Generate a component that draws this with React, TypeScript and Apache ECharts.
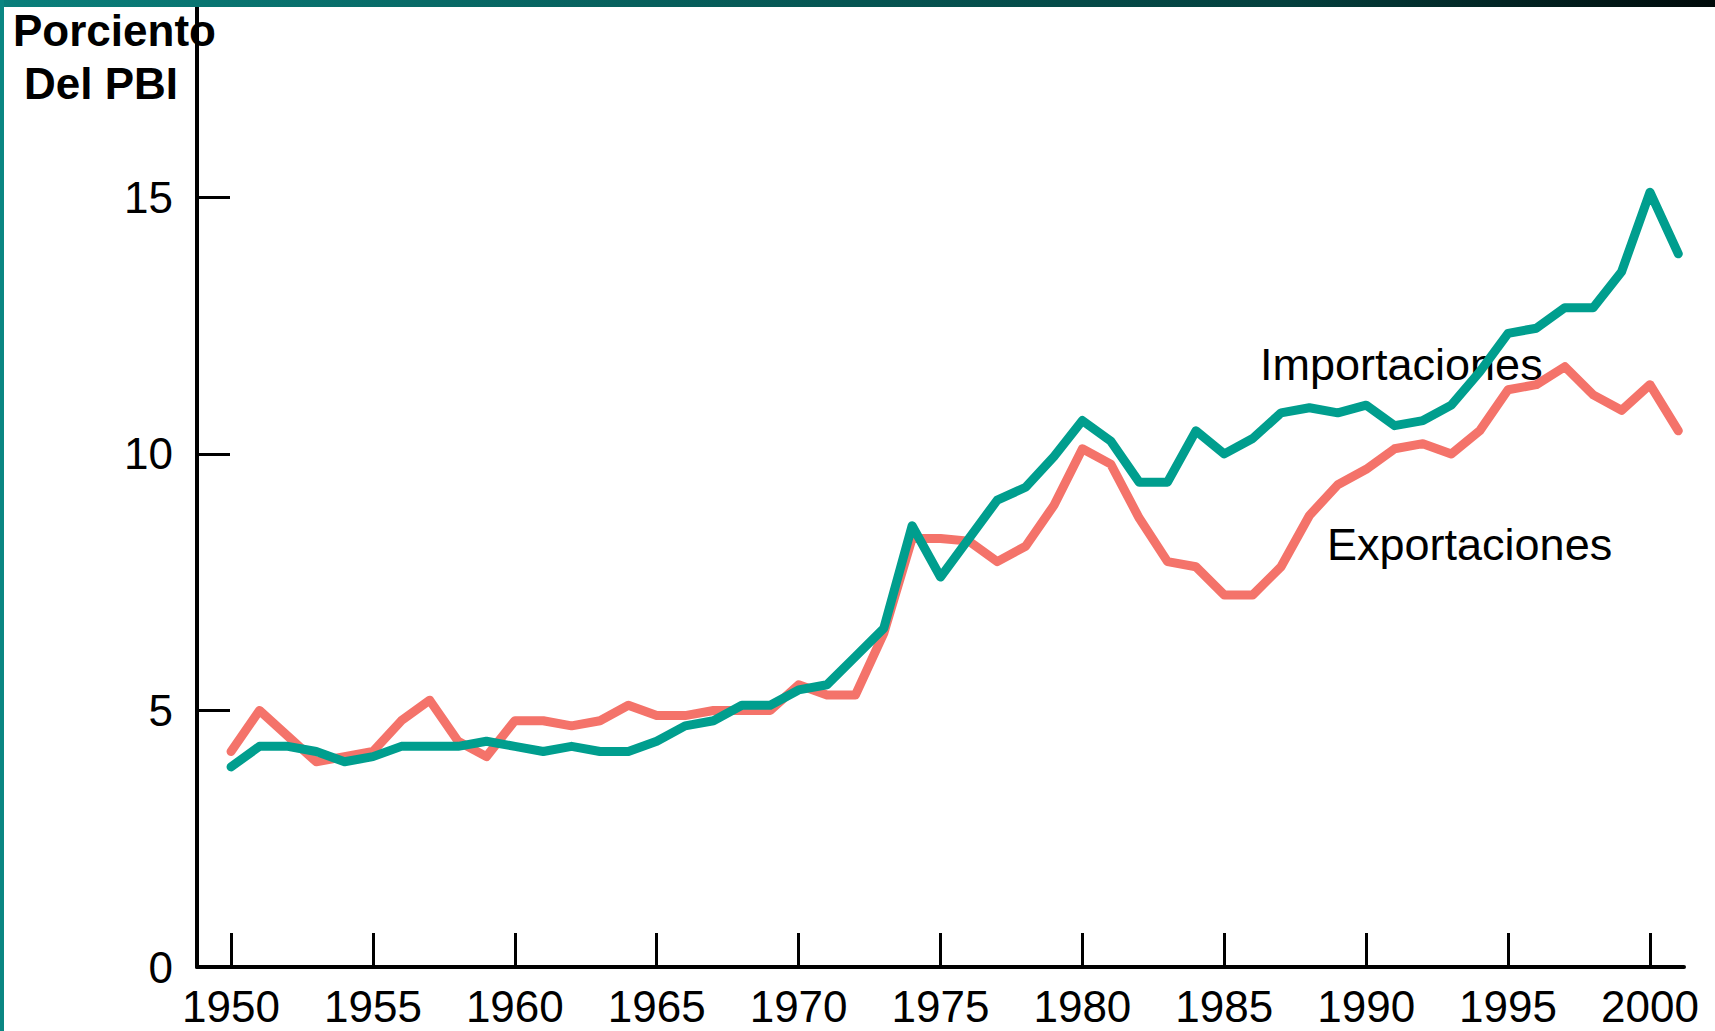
import React, { useEffect, useRef } from "react";
import * as echarts from "echarts";

const years: number[] = [];
for (let y = 1950; y <= 2001; y++) years.push(y);

const exportaciones = [
  4.2, 5.0, 4.5, 4.0, 4.1, 4.2, 4.8, 5.2, 4.4, 4.1,
  4.8, 4.8, 4.7, 4.8, 5.1, 4.9, 4.9, 5.0, 5.0, 5.0,
  5.5, 5.3, 5.3, 6.5, 8.35, 8.35, 8.3, 7.9, 8.2, 9.0,
  10.1, 9.8, 8.75, 7.9, 7.8, 7.25, 7.25, 7.8, 8.8, 9.4,
  9.7, 10.1, 10.2, 10.0, 10.45, 11.25, 11.35, 11.7, 11.15, 10.85,
  11.35, 10.45,
];

const importaciones = [
  3.9, 4.3, 4.3, 4.2, 4.0, 4.1, 4.3, 4.3, 4.3, 4.4,
  4.3, 4.2, 4.3, 4.2, 4.2, 4.4, 4.7, 4.8, 5.1, 5.1,
  5.4, 5.5, 6.05, 6.6, 8.6, 7.6, 8.35, 9.1, 9.35, 9.95,
  10.65, 10.25, 9.45, 9.45, 10.45, 10.0, 10.3, 10.8, 10.9, 10.8,
  10.95, 10.55, 10.65, 10.95, 11.6, 12.35, 12.45, 12.85, 12.85, 13.55,
  15.1, 13.9,
];

const xTicks = [1950, 1955, 1960, 1965, 1970, 1975, 1980, 1985, 1990, 1995, 2000];
const yTicks = [0, 5, 10, 15];
const yTickMarks = [5, 10, 15];

const FONT = "'Liberation Sans', Arial, Helvetica, sans-serif";

export default function App() {
  const ref = useRef<HTMLDivElement>(null);

  useEffect(() => {
    if (!ref.current) return;
    const chart = echarts.init(ref.current, undefined, { renderer: "svg" });
    const exp = years.map((y, i) => [y, exportaciones[i]]);
    const imp = years.map((y, i) => [y, importaciones[i]]);

    chart.setOption({
      animation: false,
      backgroundColor: "#ffffff",
      textStyle: { fontFamily: FONT },
      grid: { left: 197, right: 31, top: 7, bottom: 64, containLabel: false },
      xAxis: {
        type: "value",
        min: 1948.8,
        max: 2001.2,
        splitLine: { show: false },
        axisLine: { show: true, lineStyle: { color: "#000", width: 4 } },
        axisTick: {
          show: true,
          inside: true,
          length: 34,
          customValues: xTicks,
          lineStyle: { color: "#000", width: 3 },
        },
        axisLabel: {
          show: true,
          customValues: xTicks,
          fontSize: 44,
          color: "#000",
          fontFamily: FONT,
          margin: 17,
          formatter: (v: number) => String(v),
        },
      },
      yAxis: {
        type: "value",
        min: 0,
        max: 18.71,
        splitLine: { show: false },
        axisLine: { show: true, lineStyle: { color: "#000", width: 4 } },
        axisTick: {
          show: true,
          inside: true,
          length: 33,
          customValues: yTickMarks,
          lineStyle: { color: "#000", width: 3 },
        },
        axisLabel: {
          show: true,
          customValues: yTicks,
          fontSize: 44,
          color: "#000",
          fontFamily: FONT,
          margin: 24,
          formatter: (v: number) => String(v),
        },
      },
      series: [
        {
          name: "Exportaciones",
          type: "line",
          data: exp,
          showSymbol: false,
          symbol: "none",
          lineStyle: { color: "#F4736A", width: 9, cap: "round", join: "round" },
          z: 2,
        },
        {
          name: "Importaciones",
          type: "line",
          data: imp,
          showSymbol: false,
          symbol: "none",
          lineStyle: { color: "#009E8E", width: 9, cap: "round", join: "round" },
          z: 3,
        },
      ],
      graphic: [
        {
          type: "rect",
          left: 0,
          top: 0,
          shape: { width: 1715, height: 7 },
          style: {
            fill: new echarts.graphic.LinearGradient(0, 0, 1, 0, [
              { offset: 0, color: "#0a7f7b" },
              { offset: 0.75, color: "#04403e" },
              { offset: 1, color: "#000a0a" },
            ]),
          },
          z: 10,
        },
        {
          type: "rect",
          left: 0,
          top: 0,
          shape: { width: 4, height: 1031 },
          style: { fill: "#0a8682" },
          z: 10,
        },
        {
          type: "text",
          x: 13,
          y: 30,
          style: {
            text: "Porciento",
            font: `bold 44px ${FONT}`,
            fill: "#000",
            textVerticalAlign: "middle",
          },
          z: 0,
        },
        {
          type: "text",
          x: 24,
          y: 83,
          style: {
            text: "Del PBI",
            font: `bold 44px ${FONT}`,
            fill: "#000",
            textVerticalAlign: "middle",
          },
          z: 0,
        },
        {
          type: "text",
          x: 1260,
          y: 364,
          style: {
            text: "Importaciones",
            font: `45px ${FONT}`,
            fill: "#000",
            textVerticalAlign: "middle",
          },
          z: 1,
        },
        {
          type: "text",
          x: 1327,
          y: 544,
          style: {
            text: "Exportaciones",
            font: `45px ${FONT}`,
            fill: "#000",
            textVerticalAlign: "middle",
          },
          z: 1,
        },
      ],
    });

    return () => chart.dispose();
  }, []);

  return (
    <div
      ref={ref}
      style={{ position: "fixed", left: 0, top: 0, width: 1715, height: 1031 }}
    />
  );
}
